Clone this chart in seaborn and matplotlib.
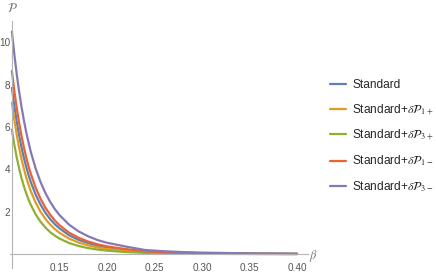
import numpy as np
import pandas as pd
import seaborn as sns
import matplotlib
matplotlib.use("Agg")
from matplotlib import pyplot as plt
from matplotlib.ticker import MultipleLocator, FixedLocator

# values
beta = [0.100, 0.1025, 0.105, 0.1075, 0.110, 0.1125, 0.115, 0.1175, 0.120, 0.125,
        0.130, 0.135, 0.140, 0.145, 0.150, 0.160, 0.170, 0.180, 0.190, 0.200,
        0.220, 0.240, 0.260, 0.280, 0.300, 0.350, 0.400]

standard = [7.85, 7.01, 6.27, 5.63, 5.06, 4.57, 4.13, 3.74, 3.39, 2.81,
            2.35, 1.97, 1.67, 1.42, 1.22, 0.90, 0.68, 0.53, 0.41, 0.32,
            0.21, 0.12, 0.08, 0.055, 0.042, 0.020, 0.012]
p1_plus = [7.15, 6.35, 5.65, 5.04, 4.51, 4.05, 3.64, 3.28, 2.96, 2.43,
           2.01, 1.68, 1.41, 1.19, 1.01, 0.74, 0.55, 0.42, 0.32, 0.25,
           0.16, 0.10, 0.065, 0.045, 0.033, 0.015, 0.008]
p3_plus = [5.88, 5.18, 4.58, 4.06, 3.61, 3.22, 2.88, 2.58, 2.32, 1.88,
           1.54, 1.27, 1.05, 0.88, 0.74, 0.53, 0.39, 0.29, 0.22, 0.17,
           0.10, 0.065, 0.040, 0.028, 0.020, 0.009, 0.005]
p1_minus = [8.64, 7.72, 6.92, 6.22, 5.61, 5.06, 4.58, 4.15, 3.78, 3.14,
            2.63, 2.21, 1.88, 1.60, 1.37, 1.02, 0.78, 0.60, 0.47, 0.37,
            0.24, 0.14, 0.095, 0.065, 0.050, 0.025, 0.015]
p3_minus = [10.5, 9.45, 8.52, 7.70, 6.98, 6.34, 5.77, 5.27, 4.81, 4.04,
            3.42, 2.91, 2.49, 2.14, 1.85, 1.40, 1.08, 0.85, 0.67, 0.54,
            0.36, 0.20, 0.14, 0.10, 0.075, 0.040, 0.025]

labels = ['Standard',
          r'Standard+$\delta\mathcal{P}_{1+}$',
          r'Standard+$\delta\mathcal{P}_{3+}$',
          r'Standard+$\delta\mathcal{P}_{1-}$',
          r'Standard+$\delta\mathcal{P}_{3-}$']
colors = ['#5E81B5', '#E19C24', '#8FB032', '#EB6235', '#8778B3']

x_major = [0.15, 0.20, 0.25, 0.30, 0.35, 0.40]
x_labels = ['0.15', '0.20', '0.25', '0.30', '0.35', '0.40']
y_major = [2, 4, 6, 8, 10]

sns.set_style("white")
plt.rcParams['font.family'] = ['Liberation Sans', 'DejaVu Sans']
plt.rcParams['mathtext.fontset'] = 'stix'

frames = []
for lab, vals in zip(labels, [standard, p1_plus, p3_plus, p1_minus, p3_minus]):
    frames.append(pd.DataFrame({'beta': beta, 'P': vals, 'series': lab}))
df = pd.concat(frames, ignore_index=True)

fig = plt.figure(figsize=(4.36, 2.73), dpi=100)
ax = fig.add_axes([10 / 436, 5 / 273, 298 / 436, 247 / 273])

sns.lineplot(data=df, x='beta', y='P', hue='series', hue_order=labels,
             palette=colors, linewidth=1.6, ax=ax, legend=True)

ax.set_xlim(0.098, 0.4115)
ax.set_ylim(-0.65, 11.0)

# mathematica-like axes: cross at (0.1, 0), grey, ticks pointing in
axis_col = '#b4b4b4'
for s in ['top', 'right']:
    ax.spines[s].set_visible(False)
ax.spines['left'].set_position(('data', 0.1))
ax.spines['bottom'].set_position(('data', 0))
ax.spines['left'].set_color(axis_col)
ax.spines['bottom'].set_color(axis_col)
ax.spines['left'].set_linewidth(0.8)
ax.spines['bottom'].set_linewidth(0.8)

ax.xaxis.set_major_locator(FixedLocator(x_major))
ax.set_xticklabels(x_labels)
ax.xaxis.set_minor_locator(MultipleLocator(0.01))
ax.yaxis.set_major_locator(FixedLocator(y_major))
ax.yaxis.set_minor_locator(MultipleLocator(0.5))
ax.tick_params(which='both', direction='in', color=axis_col, width=0.6,
               labelsize=7.2, labelcolor='#555555')
ax.tick_params(axis='x', pad=6.5)
ax.tick_params(axis='y', pad=1.0)
ax.tick_params(which='major', length=4)
ax.tick_params(which='minor', length=2)
ax.set_xlabel('')
ax.set_ylabel('')

ax.annotate(r'$\mathcal{P}$', xy=(12, 265), xycoords='figure pixels',
            ha='center', va='center', fontsize=9, color='#777777')
ax.annotate(r'$\beta$', xy=(313, 17), xycoords='figure pixels',
            ha='center', va='center', fontsize=9, color='#777777')

handles, labs = ax.get_legend_handles_labels()
ax.legend(handles, labs, loc='upper left', bbox_to_anchor=(330 / 436, 1 - 79 / 273),
          bbox_transform=fig.transFigure, frameon=False, fontsize=8.6,
          handlelength=1.35, handletextpad=0.5, labelspacing=0.95, borderpad=0,
          borderaxespad=0)

fig.savefig('out.png', dpi=100)
